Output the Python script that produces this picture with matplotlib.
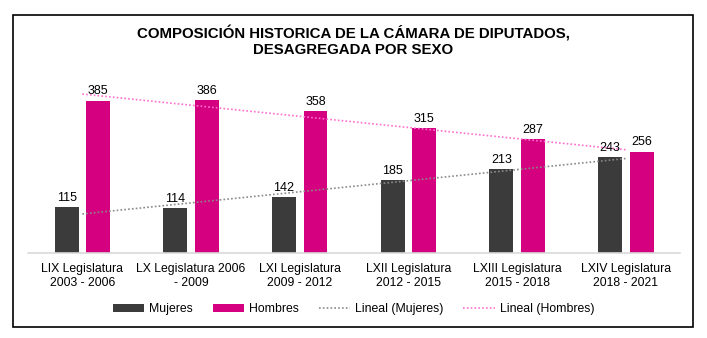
import numpy as np
import matplotlib.pyplot as plt
from matplotlib.patches import Rectangle
from matplotlib import font_manager

# data
categories = [
    "LIX Legislatura\n2003 - 2006",
    "LX Legislatura 2006\n- 2009",
    "LXI Legislatura\n2009 - 2012",
    "LXII Legislatura\n2012 - 2015",
    "LXIII Legislatura\n2015 - 2018",
    "LXIV Legislatura\n2018 - 2021",
]
mujeres = [115, 114, 142, 185, 213, 243]
hombres = [385, 386, 358, 315, 287, 256]

C_MUJ = "#3b3b3b"
C_HOM = "#d4007f"
C_TMUJ = "#8a8a8a"
C_THOM = "#ff6fd0"

names = {f.name for f in font_manager.fontManager.ttflist}
FONT = "Liberation Sans Narrow" if "Liberation Sans Narrow" in names else "Liberation Sans"
plt.rcParams["font.family"] = [FONT, "DejaVu Sans"]

fig = plt.figure(figsize=(7.07, 3.38), dpi=100, facecolor="white")

# outer frame
fig.patches.append(Rectangle((0.0184, 0.0325), 0.962, 0.923, transform=fig.transFigure,
                             fill=False, edgecolor="black", linewidth=1.2))

fig.text(0.5, 0.878, "COMPOSICIÓN HISTORICA DE LA CÁMARA DE DIPUTADOS,\nDESAGREGADA POR SEXO",
         ha="center", va="center", fontsize=10.8, fontweight="bold", linespacing=1.2)

ax = fig.add_axes([0.0396, 0.2515, 0.9224, 0.527])
x = np.arange(len(categories))
w = 0.22
off = 0.145
b1 = ax.bar(x - off, mujeres, w, color=C_MUJ, label="Mujeres")
b2 = ax.bar(x + off, hombres, w, color=C_HOM, label="Hombres")

for rect, v in zip(b1, mujeres):
    ax.text(rect.get_x() + rect.get_width() / 2, v + 8, str(v), ha="center", va="bottom", fontsize=9)
for rect, v in zip(b2, hombres):
    ax.text(rect.get_x() + rect.get_width() / 2, v + 8, str(v), ha="center", va="bottom", fontsize=9)

# linear trend lines (Excel "Lineal")
xi = np.arange(1, len(categories) + 1)
pm = np.polyfit(xi, mujeres, 1)
ph = np.polyfit(xi, hombres, 1)
ax.plot(x, np.polyval(pm, xi), linestyle=(0, (1, 1.3)), color=C_TMUJ, linewidth=1.2, label="Lineal (Mujeres)")
ax.plot(x, np.polyval(ph, xi), linestyle=(0, (1, 1.3)), color=C_THOM, linewidth=1.2, label="Lineal (Hombres)")

ax.set_xlim(-0.5, len(categories) - 0.5)
ax.set_ylim(0, 450)
ax.set_yticks([])
ax.set_xticks(x)
ax.set_xticklabels(categories, fontsize=8.8, linespacing=1.3)
ax.tick_params(axis="x", length=0, pad=7)
for s in ["top", "right", "left"]:
    ax.spines[s].set_visible(False)
ax.spines["bottom"].set_color("#d9d9d9")
ax.spines["bottom"].set_linewidth(1.2)

handles, labels = ax.get_legend_handles_labels()
order = [2, 3, 0, 1]
fig.legend([handles[i] for i in order], [labels[i] for i in order],
           loc="center", bbox_to_anchor=(0.5, 0.086), ncol=4, frameon=False,
           fontsize=8.8, handlelength=2.6, handleheight=0.6, columnspacing=1.6,
           handletextpad=0.4)

fig.savefig("out.png", dpi=100, facecolor="white")
